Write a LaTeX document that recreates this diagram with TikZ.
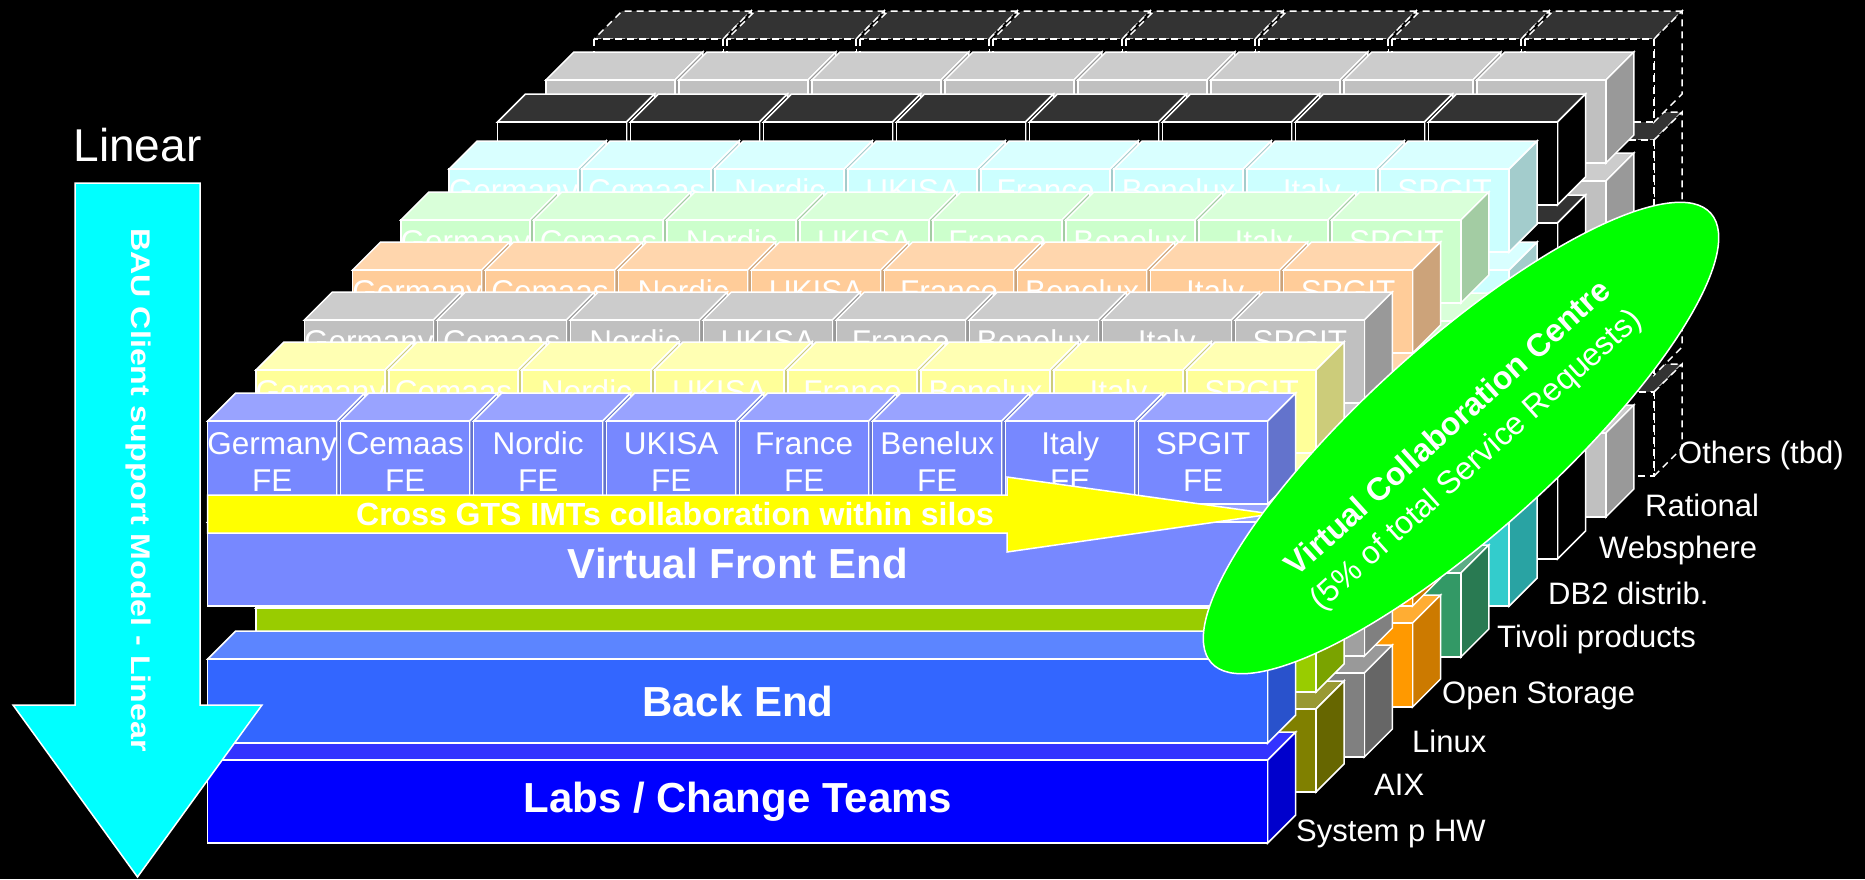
\documentclass[tikz,border=0pt]{standalone}
\usepackage{fontspec}
\usepackage{graphicx}
\setmainfont{Liberation Sans}
\usetikzlibrary{shapes.geometric}

% a box seen from the front: front face (x1,y1)-(x2,y2), depth 28 up and right
\newcommand\drawslab[8]{%
  \filldraw[#8,fill=#6] ({#1},{#2}) -- ({#3},{#2}) -- ({#3+28},{#2-28}) -- ({#1+28},{#2-28}) -- cycle;
  \filldraw[#8,fill=#7] ({#3},{#2}) -- ({#3+28},{#2-28}) -- ({#3+28},{#4-28}) -- ({#3},{#4}) -- cycle;
  \filldraw[#8,fill=#5] ({#1},{#2}) rectangle ({#3},{#4});
}
% one product layer: three stacked slabs and a row of eight cubes
% #1 left, #2 top of cubes, #3-#8 offsets of the slabs, #9 edge style
\newcommand\drawlayer[9]{%
  \drawslab{#1}{#2+#7}{#1+1060}{#2+#8}{lf}{lt}{ls}{#9}%
  \drawslab{#1}{#2+#5}{#1+1060}{#2+#6}{bf}{bt}{bs}{#9}%
  \drawslab{#1}{#2+#3}{#1+1060}{#2+#4}{vf}{vt}{vs}{#9}%
  \foreach \i in {0,...,7}{\drawslab{#1+133*\i}{#2}{#1+133*\i+129}{#2+83}{cf}{ct}{cs}{#9}}%
}
\newcommand\setshade[4]{\definecolor{#1f}{HTML}{#2}\definecolor{#1t}{HTML}{#3}\definecolor{#1s}{HTML}{#4}}
% country names on the cubes of a layer
\newcommand\countrynames[3]{%
  \foreach \n [count=\i from 0] in {Germany,Cemaas,Nordic,UKISA,France,Benelux,Italy,SPGIT}
    \node[cubename] (#3-\i) at ({#1+133*\i+64.5},{#2+32}) {\n};
}

\definecolor{vgreen}{HTML}{00FF00}
\definecolor{arrowcyan}{HTML}{00FFFF}
\definecolor{arrowyellow}{HTML}{FFFF00}

\tikzset{
  edge/.style={draw=white, line width=1.5pt},
  dedge/.style={draw=white, line width=1.5pt, dash pattern=on 7pt off 5pt},
  wt/.style={text=white, inner sep=0pt},
  cubename/.style={wt, anchor=base, font=\fontsize{31.5}{37}\selectfont},
  lbl/.style={wt, anchor=base west, font=\fontsize{31}{36}\selectfont},
  bigbold/.style={wt, font=\bfseries\fontsize{42}{48}\selectfont},
}

\begin{document}
\begin{tikzpicture}[x=1pt,y=-1pt]
\useasboundingbox (0,0) rectangle (1865,879);
\fill[black] (0,0) rectangle (1865,879);

% Others (tbd)
\setshade{c}{000000}{333333}{000000}\setshade{v}{000000}{333333}{000000}
\setshade{b}{000000}{333333}{000000}\setshade{l}{000000}{333333}{000000}
\drawlayer{594.1}{39}{101}{192}{245}{336}{353}{437}{dedge}

% Rational
\setshade{c}{C0C0C0}{CCCCCC}{999999}\setshade{v}{C0C0C0}{CCCCCC}{999999}
\setshade{b}{C0C0C0}{CCCCCC}{999999}\setshade{l}{C0C0C0}{CCCCCC}{999999}
\drawlayer{545.8}{80}{101}{192}{245}{336}{353}{437}{edge}

% Websphere
\setshade{c}{000000}{333333}{000000}\setshade{v}{000000}{333333}{000000}
\setshade{b}{000000}{333333}{000000}\setshade{l}{000000}{333333}{000000}
\drawlayer{497.5}{122}{101}{192}{245}{336}{353}{437}{edge}

% DB2 distrib.
\setshade{c}{CCFFFF}{D9FFFF}{A3CCCC}\setshade{v}{CCFFFF}{D9FFFF}{A3CCCC}
\setshade{b}{33CCCC}{5CD6D6}{29A3A3}\setshade{l}{33CCCC}{5CD6D6}{29A3A3}
\drawlayer{449.2}{169}{101}{192}{245}{336}{353}{437}{edge}
\countrynames{449.2}{169}{db}

% Tivoli products
\setshade{c}{CCFFCC}{D9FFD9}{A3CCA3}\setshade{v}{CCFFCC}{D9FFD9}{A3CCA3}
\setshade{b}{339966}{5CAD85}{297A52}\setshade{l}{339966}{5CAD85}{297A52}
\drawlayer{400.9}{220}{101}{192}{245}{336}{353}{437}{edge}
\countrynames{400.9}{220}{tv}

% Open Storage
\setshade{c}{FFCC99}{FFD6AD}{CCA37A}\setshade{v}{FFCC99}{FFD6AD}{CCA37A}
\setshade{b}{FF9900}{FFAD33}{CC7A00}\setshade{l}{FF9900}{FFAD33}{CC7A00}
\drawlayer{352.6}{270}{101}{192}{245}{336}{353}{437}{edge}
\countrynames{352.6}{270}{os}

% Linux
\setshade{c}{C0C0C0}{CCCCCC}{999999}\setshade{v}{C0C0C0}{CCCCCC}{999999}
\setshade{b}{A0A0A0}{B3B3B3}{808080}\setshade{l}{808080}{999999}{666666}
\drawlayer{304.3}{320}{101}{192}{245}{336}{353}{437}{edge}
\countrynames{304.3}{320}{lx}

% AIX
\setshade{c}{FFFF99}{FFFFB3}{CCCC7A}\setshade{v}{FFFF99}{FFFFB3}{CCCC7A}
\setshade{b}{99CC00}{ADD633}{7AA300}\setshade{l}{808000}{999933}{666600}
\drawlayer{256}{370}{101}{185}{238}{322}{339}{422}{edge}
\countrynames{256}{370}{ax}

% System p HW: front ends, back end, labs
\setshade{c}{7788FF}{99A3FF}{6373CC}\setshade{v}{7788FF}{99A3FF}{6373CC}
\setshade{b}{3366FF}{5C85FF}{2952CC}\setshade{l}{0000FF}{3333FF}{0000CC}
\drawlayer{207.7}{421}{101}{185}{238}{322}{339}{422}{edge}
\foreach \n [count=\i from 0] in {Germany,Cemaas,Nordic,UKISA,France,Benelux,Italy,SPGIT}
  \node[wt, align=center, font=\fontsize{31.5}{37}\selectfont] (fe-\i) at ({207.7+133*\i+64.5},462) {\n\\FE};
\node[bigbold] (vfe) at (737.7,563) {Virtual Front End};
\node[bigbold] (be) at (737.7,701) {Back End};
\node[bigbold] (labs) at (737.7,802) {Labs / Change Teams};

% collaboration arrow across the front ends
\filldraw[edge, fill=arrowyellow] (207.7,495) -- (1007,495) -- (1007,477) -- (1272,514)
  -- (1007,552) -- (1007,533) -- (207.7,533) -- cycle;
\node[wt, font=\bfseries\fontsize{32}{36}\selectfont] (gts) at (675,514) {Cross GTS IMTs collaboration within silos};

% linear support model arrow
\node[wt, font=\fontsize{46}{50}\selectfont] (lin) at (137.5,145) {Linear};
\filldraw[edge, fill=arrowcyan] (75,183) -- (200,183) -- (200,705) -- (262,705) -- (137.5,877)
  -- (13,705) -- (75,705) -- cycle;
\node[wt, rotate=-90, font=\bfseries\fontsize{27}{30}\selectfont] (bau) at (138,490)
  {\scalebox{1.19}[1]{BAU Client support Model - Linear}};

% virtual collaboration centre
\node[ellipse, draw=white, line width=1.5pt, fill=vgreen, minimum width=672pt,
  minimum height=190pt, inner sep=0pt, rotate=42] (vcc) at (1461,438) {};
\node[wt, rotate=42, font=\bfseries\fontsize{32}{36}\selectfont] (vcc1) at (1447,427)
  {Virtual Collaboration Centre};
\node[wt, rotate=42, font=\fontsize{32}{36}\selectfont] (vcc2) at (1477,461)
  {(5\% of total Service Requests)};

% product labels
\node[lbl] (l0) at (1296,841) {System p HW};
\node[lbl] (l1) at (1374,795) {AIX};
\node[lbl] (l2) at (1412,752) {Linux};
\node[lbl] (l3) at (1442,703) {Open Storage};
\node[lbl] (l4) at (1497,647) {Tivoli products};
\node[lbl] (l5) at (1548,604) {DB2 distrib.};
\node[lbl] (l6) at (1599,558) {Websphere};
\node[lbl] (l7) at (1645,516) {Rational};
\node[lbl] (l8) at (1678,463) {Others (tbd)};
\end{tikzpicture}
\end{document}
